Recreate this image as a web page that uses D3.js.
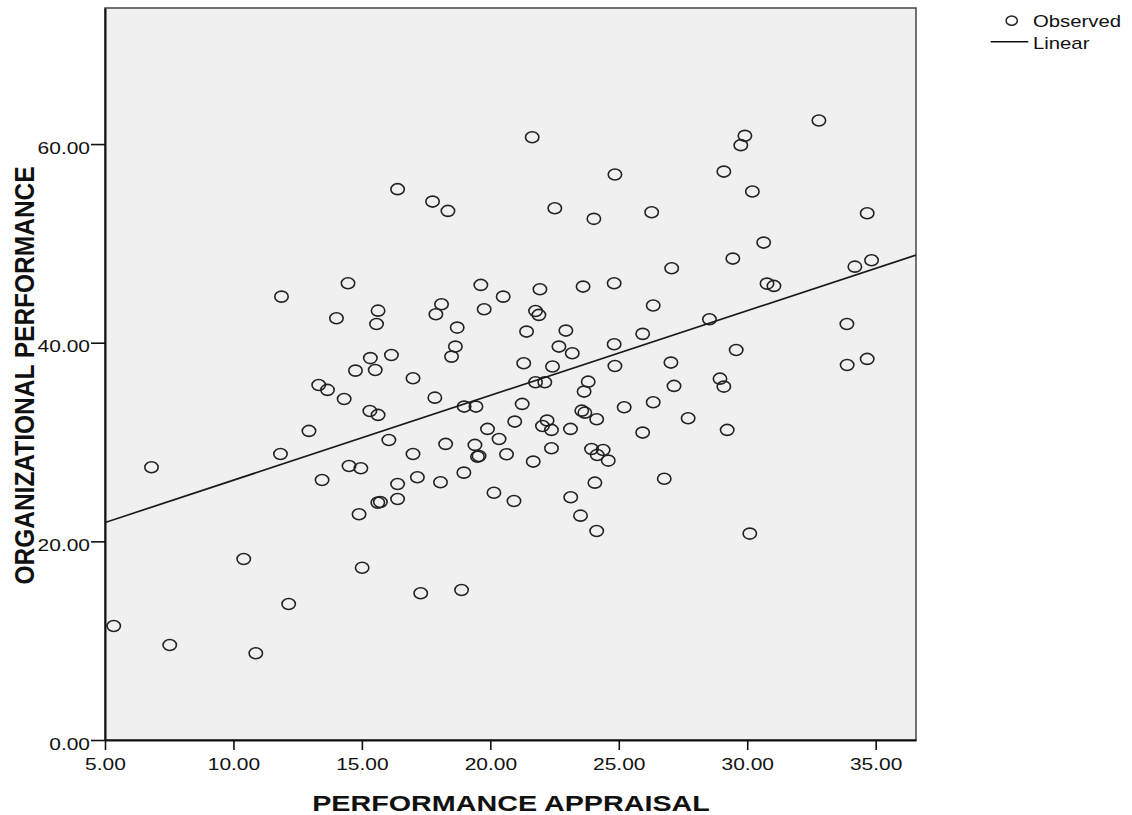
<!DOCTYPE html>
<html>
<head>
<meta charset="utf-8">
<script src="https://cdn.jsdelivr.net/npm/d3@7"></script>
<style>
  body { margin: 0; background: #fff; }
  text { font-family: "Liberation Sans", Arial, sans-serif; fill: #111; }
</style>
</head>
<body>
<svg id="chart" width="1132" height="815"></svg>
<script>
// PERFORMANCE APPRAISAL (x) for each respondent
const appraisal = [
  5.34, 7.52, 10.87, 10.40, 12.15, 15.01, 14.89, 6.81, 11.83, 11.87,
  14.46, 14.01, 15.63, 15.57, 15.33, 14.75, 15.52, 13.32, 13.66, 14.31,
  15.31, 15.63, 12.94, 14.50, 14.96, 13.45, 15.62, 15.72, 16.39, 17.75,
  18.35, 21.63, 22.51, 24.03, 24.85, 26.28, 19.63, 21.93, 20.50, 23.61,
  24.82, 18.10, 17.88, 19.76, 21.76, 21.89, 18.71, 21.41, 22.94, 25.93,
  26.34, 16.15, 18.64, 18.49, 22.67, 23.19, 24.82, 32.79, 29.91, 29.75,
  29.09, 30.20, 34.67, 30.64, 29.44, 27.06, 34.19, 34.84, 30.77, 31.04,
  28.53, 33.88, 29.57, 27.03, 33.89, 34.67, 27.15, 28.94, 29.09, 26.34,
  27.70, 25.93, 29.22, 26.77, 30.10, 21.30, 22.42, 24.85, 16.99, 23.81,
  23.65, 21.76, 22.12, 17.84, 18.98, 19.44, 21.24, 23.56, 23.68, 24.14,
  25.21, 20.95, 22.21, 22.03, 22.38, 23.12, 19.89, 20.34, 16.05, 18.26,
  19.40, 19.50, 19.56, 20.63, 21.67, 22.38, 23.94, 24.39, 24.16, 24.59,
  16.99, 18.97, 17.16, 18.06, 16.39, 16.39, 20.14, 20.92, 24.07, 23.13,
  23.51, 24.14, 17.29, 18.88
];

// ORGANIZATIONAL PERFORMANCE (y), same order
const orgPerformance = [
  11.48, 9.57, 8.73, 18.23, 13.70, 17.35, 22.73, 27.46, 28.80, 44.64,
  45.99, 42.47, 43.23, 41.89, 38.45, 37.19, 37.26, 35.75, 35.25, 34.34,
  33.13, 32.73, 31.12, 27.59, 27.36, 26.18, 23.90, 23.96, 55.46, 54.21,
  53.27, 60.69, 53.54, 52.47, 56.93, 53.14, 45.82, 45.39, 44.64, 45.65,
  45.99, 43.88, 42.87, 43.37, 43.20, 42.80, 41.52, 41.12, 41.22, 40.89,
  43.74, 38.77, 39.61, 38.60, 39.61, 38.94, 39.85, 62.37, 60.83, 59.89,
  57.23, 55.22, 53.04, 50.08, 48.47, 47.50, 47.66, 48.31, 45.95, 45.72,
  42.36, 41.89, 39.27, 38.00, 37.76, 38.37, 35.65, 36.38, 35.58, 34.00,
  32.40, 30.95, 31.22, 26.31, 20.78, 37.93, 37.60, 37.66, 36.42, 36.08,
  35.08, 36.02, 36.02, 34.47, 33.57, 33.57, 33.84, 33.16, 32.96, 32.30,
  33.50, 32.06, 32.16, 31.62, 31.22, 31.32, 31.32, 30.31, 30.21, 29.81,
  29.71, 28.53, 28.60, 28.77, 28.03, 29.37, 29.30, 29.20, 28.70, 28.13,
  28.80, 26.92, 26.45, 25.95, 25.78, 24.27, 24.90, 24.07, 25.91, 24.44,
  22.59, 21.05, 14.77, 15.11
];

const xTicks = [5, 10, 15, 20, 25, 30, 35];
const yTicks = [0, 20, 40, 60];
const xDomain = [5, 36.57];
const yDomain = [0, 73.7];

// linear fit as drawn in the chart
const fitIntercept = 17.63;
const fitSlope = 0.853;

const legendLabels = ["Observed", "Linear"];

const svg = d3.select("#chart");
const plotLeft = 105, plotRight = 916, plotTop = 8, plotBottom = 740;
const stretch = 1.27; // the original text is widened horizontally

const x = d3.scaleLinear().domain(xDomain).range([plotLeft, plotRight]);
const y = d3.scaleLinear().domain(yDomain).range([plotBottom, plotTop]);

// plot frame
svg.append("rect")
  .attr("x", plotLeft).attr("y", plotTop)
  .attr("width", plotRight - plotLeft).attr("height", plotBottom - plotTop)
  .attr("fill", "#f0f0f0")
  .attr("stroke", "#444")
  .attr("stroke-width", 1.5);

svg.append("defs").append("clipPath").attr("id", "plot-clip")
  .append("rect")
  .attr("x", plotLeft).attr("y", plotTop)
  .attr("width", plotRight - plotLeft).attr("height", plotBottom - plotTop);

// points
const data = appraisal.map((v, i) => ({ x: v, y: orgPerformance[i] }));
svg.append("g")
  .attr("clip-path", "url(#plot-clip)")
  .selectAll("ellipse")
  .data(data)
  .enter()
  .append("ellipse")
  .attr("cx", d => x(d.x))
  .attr("cy", d => y(d.y))
  .attr("rx", 6.7)
  .attr("ry", 5.5)
  .attr("fill", "none")
  .attr("stroke", "#222")
  .attr("stroke-width", 1.6);

// fit line
const fitLine = xDomain.map(v => ({ x: v, y: fitIntercept + fitSlope * v }));
svg.append("path")
  .datum(fitLine)
  .attr("clip-path", "url(#plot-clip)")
  .attr("d", d3.line().x(d => x(d.x)).y(d => y(d.y)))
  .attr("fill", "none")
  .attr("stroke", "#1a1a1a")
  .attr("stroke-width", 1.7);

// x axis
const xAxis = svg.append("g")
  .attr("transform", "translate(0," + plotBottom + ")")
  .call(d3.axisBottom(x).tickValues(xTicks).tickFormat(d3.format(".2f"))
    .tickSize(10).tickSizeOuter(0).tickPadding(8));
xAxis.select(".domain").attr("stroke", "#111").attr("stroke-width", 2);
xAxis.selectAll(".tick line").attr("stroke", "#111").attr("stroke-width", 1.6);
xAxis.selectAll(".tick text")
  .attr("font-size", "16.5px")
  .attr("fill", "#222")
  .attr("transform", "scale(" + stretch + ",1)");

// y axis
const yAxis = svg.append("g")
  .attr("transform", "translate(" + plotLeft + ",0)")
  .call(d3.axisLeft(y).tickValues(yTicks).tickFormat(d3.format(".2f"))
    .tickSize(14).tickSizeOuter(0).tickPadding(1));
yAxis.select(".domain").attr("stroke", "#111").attr("stroke-width", 2);
yAxis.selectAll(".tick line").attr("stroke", "#111").attr("stroke-width", 1.6);
yAxis.selectAll(".tick text")
  .attr("font-size", "16.5px")
  .attr("fill", "#222")
  .attr("x", 0)
  .attr("dy", "0.55em")
  .attr("transform", "translate(-15,0) scale(" + stretch + ",1)");

// axis titles
svg.append("text")
  .attr("transform", "translate(511,811) scale(" + stretch + ",1)")
  .attr("text-anchor", "middle")
  .attr("font-size", "22.6px")
  .attr("font-weight", "bold")
  .text("PERFORMANCE APPRAISAL");

svg.append("text")
  .attr("transform", "translate(34,375.5) scale(1.14,1) rotate(-90)")
  .attr("text-anchor", "middle")
  .attr("font-size", "24.5px")
  .attr("font-weight", "bold")
  .text("ORGANIZATIONAL PERFORMANCE");

// legend
const legend = svg.append("g");
legend.append("ellipse")
  .attr("cx", 1011.7).attr("cy", 20.7)
  .attr("rx", 5.6).attr("ry", 4.6)
  .attr("fill", "none")
  .attr("stroke", "#222")
  .attr("stroke-width", 1.5);
legend.append("line")
  .attr("x1", 990.7).attr("x2", 1028.3)
  .attr("y1", 41.7).attr("y2", 41.7)
  .attr("stroke", "#111")
  .attr("stroke-width", 1.6);
legend.selectAll("text.legend-label")
  .data(legendLabels)
  .enter()
  .append("text")
  .attr("class", "legend-label")
  .attr("transform", (d, i) => "translate(1033," + (27 + i * 21.5) + ") scale(" + stretch + ",1)")
  .attr("font-size", "16px")
  .text(d => d);
</script>
</body>
</html>
